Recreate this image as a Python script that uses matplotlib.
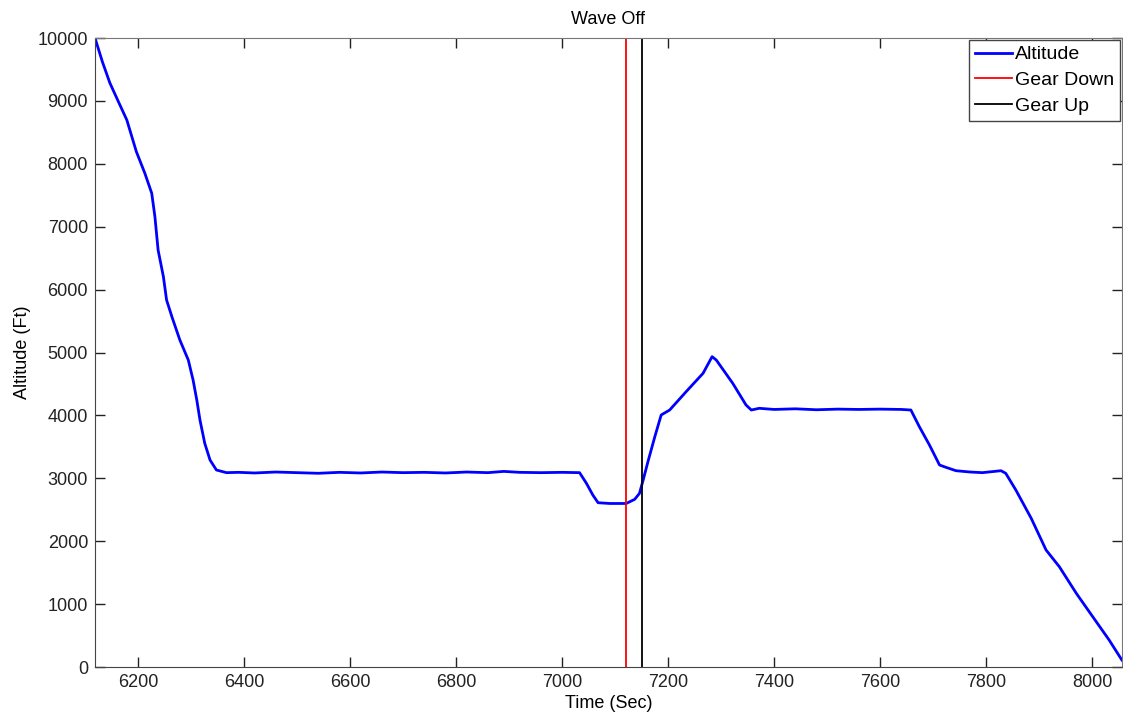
import matplotlib
matplotlib.use('Agg')
import matplotlib.pyplot as plt

plt.rcParams['font.family'] = ['Liberation Sans', 'DejaVu Sans']

# Altitude trace (time in s, altitude in ft)
time_s = [6119, 6133, 6147, 6163, 6179, 6197, 6213, 6226, 6232, 6238, 6248,
          6254, 6264, 6279, 6295, 6304, 6311, 6317, 6326, 6336, 6348, 6367,
          6390, 6420, 6460, 6500, 6540, 6580, 6620, 6660, 6700, 6740, 6780,
          6820, 6860, 6890, 6920, 6960, 7000, 7033, 7046, 7058, 7068, 7090,
          7121, 7137, 7146, 7153, 7162, 7175, 7187, 7203, 7234, 7266, 7283,
          7291, 7322, 7347, 7357, 7372, 7400, 7440, 7480, 7520, 7560, 7600,
          7640, 7658, 7674, 7693, 7712, 7724, 7743, 7770, 7793, 7828, 7837,
          7856, 7885, 7913, 7938, 7970, 8001, 8032, 8056]
altitude_ft = [10000, 9620, 9286, 8990, 8697, 8193, 7850, 7532, 7160, 6630,
               6206, 5835, 5570, 5200, 4880, 4563, 4245, 3927, 3557, 3291,
               3132, 3090, 3095, 3085, 3100, 3090, 3080, 3095, 3085, 3100,
               3090, 3095, 3085, 3100, 3090, 3110, 3095, 3090, 3095, 3090,
               2920, 2735, 2612, 2600, 2600, 2666, 2760, 2973, 3264, 3662,
               4007, 4086, 4377, 4670, 4934, 4880, 4510, 4166, 4086, 4113,
               4095, 4105, 4090, 4100, 4095, 4100, 4095, 4086, 3820, 3530,
               3212, 3175, 3121, 3100, 3090, 3121, 3079, 2814, 2364, 1860,
               1595, 1172, 800, 429, 111]

gear_down_t = 7121
gear_up_t = 7150

fig = plt.figure(figsize=(11.23, 7.17), dpi=100)
ax = fig.add_axes([0.0846, 0.0697, 0.9144, 0.8773])

ax.plot(time_s, altitude_ft, color='#0000ff', lw=2.0, label='Altitude')
ax.axvline(gear_down_t, color='#ff0000', lw=1.3, label='Gear Down')
ax.axvline(gear_up_t, color='black', lw=1.3, label='Gear Up')

ax.set_xlim(6119, 8056)
ax.set_ylim(0, 10000)
ax.set_xticks(range(6200, 8001, 200))
ax.set_yticks(range(0, 10001, 1000))
ax.tick_params(direction='in', length=7, width=1, top=True, right=True,
               labelsize=13, colors='#222222', pad=5)
for s in ax.spines.values():
    s.set_color('#777777')
ax.spines['left'].set_color('#444444')
ax.spines['bottom'].set_color('#444444')

ax.set_xlabel('Time (Sec)', fontsize=13, labelpad=3)
ax.set_ylabel('Altitude (Ft)', fontsize=13, labelpad=5)
ax.set_title('Wave Off', fontsize=13, pad=10)

leg = ax.legend(loc='upper right', fontsize=14, fancybox=False, framealpha=1,
                edgecolor='#444444', handlelength=1.9, handletextpad=0.15,
                borderpad=0.3, labelspacing=0.42, borderaxespad=0.1)
leg.get_frame().set_linewidth(1.0)

fig.savefig('out.png', dpi=100)
